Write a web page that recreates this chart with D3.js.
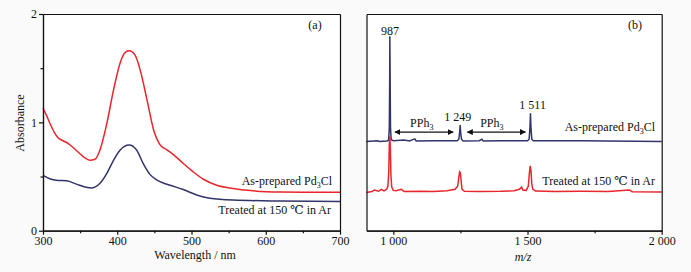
<!DOCTYPE html>
<html>
<head>
<meta charset="utf-8">
<script src="https://cdn.jsdelivr.net/npm/d3@7"></script>
<style>
  body { margin: 0; background: #fafafa; }
  svg text { font-family: "Liberation Serif", "DejaVu Serif", "Times New Roman", serif; fill: #111; }
  .axis path, .axis line { stroke: #111; stroke-width: 1.2; }
  .axis text { font-size: 12px; }
</style>
</head>
<body>
<svg id="chart" width="691" height="272"></svg>
<script>
// (a) UV-vis absorbance
var wavelength = [300, 305, 310, 315, 320, 327, 335, 345, 355, 363, 370, 377, 386, 395, 404, 410, 416, 424, 431, 440, 449, 458, 466, 476, 489, 502, 516, 534, 556, 579, 620, 660, 700];
var absPrepared = [1.13, 1.06, 0.98, 0.91, 0.86, 0.83, 0.80, 0.74, 0.68, 0.65, 0.66, 0.75, 0.99, 1.30, 1.55, 1.64, 1.66, 1.62, 1.48, 1.21, 0.93, 0.79, 0.75, 0.70, 0.62, 0.545, 0.475, 0.42, 0.39, 0.37, 0.357, 0.355, 0.354];
var wavelengthT = [300, 309, 318, 332, 345, 358, 366, 377, 386, 395, 404, 416, 426, 435, 444, 453, 462, 471, 489, 507, 525, 556, 620, 700];
var absTreated = [0.51, 0.48, 0.465, 0.46, 0.43, 0.40, 0.395, 0.44, 0.53, 0.65, 0.745, 0.79, 0.745, 0.62, 0.52, 0.47, 0.44, 0.42, 0.38, 0.33, 0.30, 0.283, 0.274, 0.27];
var wlTicks = [300, 400, 500, 600, 700];
var wlMinor = [350, 450, 550, 650];
var absTicks = [0, 1, 2];
var absMinor = [0.5, 1.5];

// (b) mass spectra, relative intensity
var mzPrepared = [900, 940, 950, 975, 982, 985, 986.5, 987, 988, 989.5, 992, 1000, 1040, 1060, 1080, 1085, 1150, 1238, 1244, 1247, 1249, 1251, 1254, 1260, 1320, 1330, 1335, 1400, 1500, 1506, 1509, 1511, 1513, 1516, 1522, 1700, 1800, 2000];
var intPrepared = [0, 0.3, 0, 0.2, 0.5, 6, 30, 48.5, 30, 6, 0.8, 0.3, 0.6, 0.2, 1.2, 0.2, 0.3, 0.3, 1, 4, 7.6, 4, 1, 0.2, 0.3, 1, 0.2, 0.3, 0.3, 1, 6, 13, 6, 1, 0.3, 0.3, 0.2, 0];
var mzTreated = [900, 920, 930, 945, 955, 965, 975, 980, 983, 985, 987, 989, 991, 994, 1000, 1010, 1030, 1040, 1100, 1150, 1200, 1230, 1240, 1244, 1247, 1250, 1253, 1256, 1265, 1320, 1400, 1450, 1470, 1478, 1483, 1495, 1503, 1507, 1510, 1513, 1516, 1520, 1530, 1600, 1700, 1800, 1880, 1890, 2000];
var intTreated = [0, 0.5, 1.2, 0.6, 1.5, 0.8, 1.5, 3, 10, 22, 26, 20, 8, 2.5, 1, 0.8, 1.5, 0.5, 0.6, 0.5, 0.8, 1.5, 3, 7, 9.5, 9, 5, 1.5, 0.6, 0.5, 0.6, 0.8, 1.5, 2.5, 1.2, 1, 3, 9, 12.3, 10, 4, 1.5, 0.7, 0.5, 0.6, 0.5, 1.2, 0.4, 0.3];
var offsetPrepared = 41.2;
var offsetTreated = 17.6;
var mzTicks = [1000, 1500, 2000];
var mzTickLabels = ["1 000", "1 500", "2 000"];
var mzMinor = [1250, 1750];
var peakLabels = [{mz: 988, y: 90.5, text: "987"}, {mz: 1240, y: 50.5, text: "1 249"}, {mz: 1519, y: 56, text: "1 511"}];
var arrows = [{from: 1006, to: 1223, y: 45.5, mid: 1106}, {from: 1276, to: 1492, y: 45.5, mid: 1367}];

var red = "#e8262b";
var navy = "#313469";
var serif = "'Liberation Serif', 'DejaVu Serif', 'Times New Roman', serif";

var svg = d3.select("#chart").attr("font-family", serif);

var defs = svg.append("defs");
defs.append("marker")
    .attr("id", "arrow")
    .attr("viewBox", "0 0 10 10")
    .attr("refX", 9).attr("refY", 5)
    .attr("markerWidth", 6).attr("markerHeight", 6)
    .attr("markerUnits", "userSpaceOnUse")
    .attr("orient", "auto-start-reverse")
    .append("path")
    .attr("d", "M0,0L10,5L0,10Z")
    .attr("fill", "#111");

function styleAxis(g) {
  g.attr("font-family", serif).attr("font-size", 12);
}

// ---------- panel (a) ----------
var xA = d3.scaleLinear().domain([300, 700]).range([43, 340]);
var yA = d3.scaleLinear().domain([0, 2]).range([230.7, 14]);

svg.append("rect")
    .attr("x", 43).attr("y", 14)
    .attr("width", 297).attr("height", 216.7)
    .attr("fill", "#fff");

var lineA = d3.line().curve(d3.curveMonotoneX)
    .x(function(d) { return xA(d[0]); })
    .y(function(d) { return yA(d[1]); });

svg.append("path")
    .attr("d", lineA(d3.zip(wavelength, absPrepared)))
    .attr("fill", "none").attr("stroke", red).attr("stroke-width", 1.5);
svg.append("path")
    .attr("d", lineA(d3.zip(wavelengthT, absTreated)))
    .attr("fill", "none").attr("stroke", navy).attr("stroke-width", 1.5);

svg.append("g").attr("class", "axis")
    .attr("transform", "translate(0,230.7)")
    .call(d3.axisBottom(xA).tickValues(wlTicks).tickSize(4).tickSizeOuter(0).tickPadding(2)
        .tickFormat(d3.format("d")))
    .call(styleAxis);
svg.append("g").attr("class", "axis")
    .attr("transform", "translate(0,230.7)")
    .call(d3.axisBottom(xA).tickValues(wlMinor).tickSize(2.5).tickSizeOuter(0).tickFormat(""));
svg.append("g").attr("class", "axis")
    .attr("transform", "translate(43,0)")
    .call(d3.axisLeft(yA).tickValues(absTicks).tickSize(4).tickSizeOuter(0).tickPadding(2)
        .tickFormat(d3.format("d")))
    .call(styleAxis);
svg.append("g").attr("class", "axis")
    .attr("transform", "translate(43,0)")
    .call(d3.axisLeft(yA).tickValues(absMinor).tickSize(2.5).tickSizeOuter(0).tickFormat(""));
svg.append("g").attr("class", "axis")
    .attr("transform", "translate(0,14)")
    .call(d3.axisTop(xA).tickValues([]).tickSizeOuter(0));
svg.append("g").attr("class", "axis")
    .attr("transform", "translate(340,0)")
    .call(d3.axisRight(yA).tickValues([]).tickSizeOuter(0));

svg.append("text").attr("x", 195).attr("y", 259)
    .attr("text-anchor", "middle").attr("font-size", 12).text("Wavelength / nm");
svg.append("text")
    .attr("transform", "translate(24,123) rotate(-90)")
    .attr("text-anchor", "middle").attr("font-size", 12).text("Absorbance");
svg.append("text").attr("x", 315).attr("y", 29)
    .attr("text-anchor", "middle").attr("font-size", 12).text("(a)");

function pdLabel(x, y) {
  var t = svg.append("text").attr("x", x).attr("y", y)
      .attr("text-anchor", "end").attr("font-size", 12);
  t.append("tspan").text("As-prepared Pd");
  t.append("tspan").attr("font-size", 8).attr("dy", 3).text("3");
  t.append("tspan").attr("dy", -3).text("Cl");
}
function treatedLabel(x, y) {
  svg.append("text").attr("x", x).attr("y", y)
      .attr("text-anchor", "end").attr("font-size", 12)
      .text("Treated at 150 \u2103 in Ar");
}
pdLabel(332, 185);
treatedLabel(331, 214);

// ---------- panel (b) ----------
var xB = d3.scaleLinear().domain([900, 2000]).range([366.5, 661.7]);
var yB = d3.scaleLinear().domain([0, 100]).range([230.7, 14]);

svg.append("rect")
    .attr("x", 366.5).attr("y", 14)
    .attr("width", 295.2).attr("height", 216.7)
    .attr("fill", "#fff");

function lineB(off) {
  return d3.line()
      .x(function(d) { return xB(d[0]); })
      .y(function(d) { return yB(d[1] + off); });
}

svg.append("path")
    .attr("d", lineB(offsetPrepared)(d3.zip(mzPrepared, intPrepared)))
    .attr("fill", "none").attr("stroke", navy).attr("stroke-width", 1.5);
svg.append("path")
    .attr("d", lineB(offsetTreated)(d3.zip(mzTreated, intTreated)))
    .attr("fill", "none").attr("stroke", red).attr("stroke-width", 1.5);

svg.append("g").attr("class", "axis")
    .attr("transform", "translate(0,230.7)")
    .call(d3.axisBottom(xB).tickValues(mzTicks).tickSize(4).tickSizeOuter(0).tickPadding(2)
        .tickFormat(function(d, i) { return mzTickLabels[i]; }))
    .call(styleAxis);
svg.append("g").attr("class", "axis")
    .attr("transform", "translate(0,230.7)")
    .call(d3.axisBottom(xB).tickValues(mzMinor).tickSize(2.5).tickSizeOuter(0).tickFormat(""));
svg.append("g").attr("class", "axis")
    .attr("transform", "translate(366.5,0)")
    .call(d3.axisLeft(yB).tickValues([]).tickSizeOuter(0));
svg.append("g").attr("class", "axis")
    .attr("transform", "translate(0,14)")
    .call(d3.axisTop(xB).tickValues([]).tickSizeOuter(0));
svg.append("g").attr("class", "axis")
    .attr("transform", "translate(661.7,0)")
    .call(d3.axisRight(yB).tickValues([]).tickSizeOuter(0));

svg.append("text").attr("x", 523).attr("y", 261)
    .attr("text-anchor", "middle").attr("font-size", 12).attr("font-style", "italic").text("m/z");
svg.append("text").attr("x", 635).attr("y", 29)
    .attr("text-anchor", "middle").attr("font-size", 12).text("(b)");

svg.selectAll(".peak").data(peakLabels).enter().append("text")
    .attr("class", "peak")
    .attr("x", function(d) { return xB(d.mz); })
    .attr("y", function(d) { return yB(d.y); })
    .attr("text-anchor", "middle").attr("font-size", 12)
    .text(function(d) { return d.text; });

arrows.forEach(function(a) {
  svg.append("line")
      .attr("x1", xB(a.from)).attr("x2", xB(a.to))
      .attr("y1", yB(a.y)).attr("y2", yB(a.y))
      .attr("stroke", "#111").attr("stroke-width", 1.2)
      .attr("marker-start", "url(#arrow)").attr("marker-end", "url(#arrow)");
  var t = svg.append("text").attr("x", xB(a.mid)).attr("y", yB(a.y) - 5)
      .attr("text-anchor", "middle").attr("font-size", 12);
  t.append("tspan").text("PPh");
  t.append("tspan").attr("font-size", 8).attr("dy", 3).text("3");
});

pdLabel(655, 131);
treatedLabel(655, 185);
</script>
</body>
</html>
